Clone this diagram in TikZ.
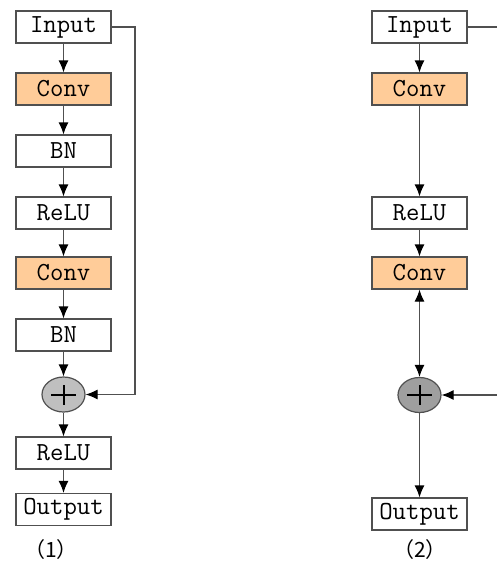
\documentclass[tikz,border=0pt]{standalone}
\usepackage{fontspec}
\newfontfamily\cjk{Noto Sans CJK SC}
\usetikzlibrary{arrows.meta}
\definecolor{convfill}{RGB}{255,204,153}
\definecolor{linegray}{RGB}{80,80,80}
\tikzset{
  block/.style={draw=linegray, line width=0.6pt, fill=white, minimum width=47.5pt, minimum height=16pt, inner sep=0pt, font=\ttfamily\fontsize{13}{15}\selectfont},
  convbox/.style={block, fill=convfill},
  addnode/.style={ellipse, draw=linegray, line width=0.6pt, minimum width=21.5pt, minimum height=17.5pt, inner sep=0pt,
    path picture={
      \draw[black, line width=1pt] ([xshift=-6.25pt]path picture bounding box.center) -- ([xshift=6.25pt]path picture bounding box.center);
      \draw[black, line width=1pt] ([yshift=-5pt]path picture bounding box.center) -- ([yshift=5pt]path picture bounding box.center);
    }},
  arr/.style={draw=linegray, line width=0.6pt, -{Latex[length=6pt,width=5pt,black]}},
  dblarr/.style={draw=linegray, line width=0.6pt, {Latex[length=6pt,width=5pt,black]}-{Latex[length=6pt,width=5pt,black]}},
  line/.style={draw=linegray, line width=0.6pt},
  caption/.style={font=\cjk\fontsize{10.5}{12}\selectfont}
}
\usetikzlibrary{shapes.geometric}
\begin{document}
\begin{tikzpicture}
			[x=0.5pt, y=-0.5pt]
			\useasboundingbox (0,0) rectangle (497,563);
			% (1)
			\node[block] (in1) at (63.5,27) {Input};
			\node[convbox] (c1) at (63.5,89) {Conv};
			\node[block] (bn1) at (63.5,151) {BN};
			\node[block] (re1) at (63.5,213) {ReLU};
			\node[convbox] (c2) at (63.5,273) {Conv};
			\node[block] (bn2) at (63.5,335) {BN};
			\node[addnode, fill=gray!50] (add1) at (63.5,394.5) {};
			\node[block] (re2) at (63.5,453) {ReLU};
			\node[block] (out1) at (63.5,509.5) {Output};
			\node[caption] (cap1) at (51,550) {（1）};
			\coordinate (k1) at (135,27);
			\coordinate (k2) at (135,394.5);
			\draw (in1) edge[arr] (c1);
			\draw (c1) edge[arr] (bn1);
			\draw (bn1) edge[arr] (re1);
			\draw (re1) edge[arr] (c2);
			\draw (c2) edge[arr] (bn2);
			\draw (bn2) edge[arr] (add1);
			\draw (add1) edge[arr] (re2);
			\draw (re2) edge[arr] (out1);
			\draw[line] (in1) -- (k1) -- (k2);
			\draw (k2) edge[arr] (add1);
			% (2)
			\node[block] (in2) at (419.5,27) {Input};
			\node[convbox] (c3) at (419.5,89) {Conv};
			\node[block] (re3) at (419.5,213) {ReLU};
			\node[convbox] (c4) at (419.5,273) {Conv};
			\node[addnode, fill=gray!75] (add2) at (419.5,395) {};
			\node[block] (out2) at (419.5,514) {Output};
			\node[caption] (cap2) at (420,550) {（2）};
			\coordinate (k3) at (497,27);
			\coordinate (k4) at (497,395);
			\draw (in2) edge[arr] (c3);
			\draw (c3) edge[arr] (re3);
			\draw (re3) edge[arr] (c4);
			\draw (c4) edge[dblarr] (add2);
			\draw (add2) edge[arr] (out2);
			\draw[line] (in2) -- (k3);
			\draw (k4) edge[arr] (add2);
			\end{tikzpicture}
\end{document}
